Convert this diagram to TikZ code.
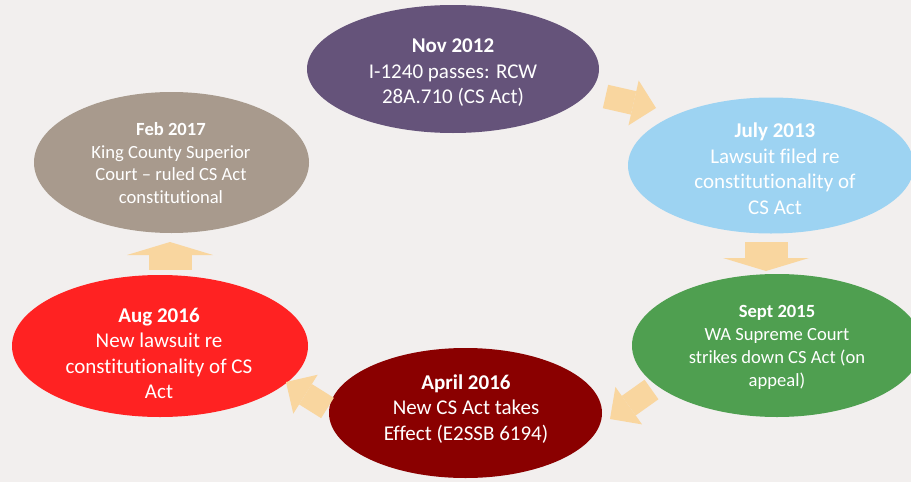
\documentclass[tikz,border=0pt]{standalone}
\usepackage{fontspec}
\setmainfont{Carlito}[Ligatures=NoCommon]
\usetikzlibrary{shapes.geometric,arrows.meta}
\definecolor{bg}{HTML}{F2EFEE}
\definecolor{cpurple}{HTML}{65537A}
\definecolor{cblue}{HTML}{9DD3F2}
\definecolor{cgreen}{HTML}{4F9F50}
\definecolor{cdarkred}{HTML}{8A0000}
\definecolor{cred}{HTML}{FF2222}
\definecolor{cbeige}{HTML}{A89A8D}
\definecolor{carrow}{HTML}{F9D69F}
\begin{document}
\begin{tikzpicture}[x=1pt,y=-1pt,
  stage/.style={ellipse, inner sep=0pt, draw=none},
  bigtxt/.style={text=white, align=center, inner sep=0pt, font=\fontsize{21}{25.5}\selectfont},
  smalltxt/.style={text=white, align=center, inner sep=0pt, font=\fontsize{18.6}{22.8}\selectfont},
  flow/.style={draw=carrow, line width=24pt, -{Triangle[width=46pt,length=23pt,line width=0pt,fill=carrow]}},
  vflow/.style={draw=carrow, line width=43pt, -{Triangle[width=86pt,length=13pt,line width=0pt,fill=carrow]}}
]
\useasboundingbox (0,0) rectangle (911,482);
\clip (0,0) rectangle (911,482);
\fill[bg] (0,0) rectangle (911,482);

% stages
\node[stage, fill=cpurple, minimum width=292pt, minimum height=128pt] (nov) at (453,69) {};
\node[stage, fill=cblue, minimum width=286pt, minimum height=136pt] (jul) at (771,165.5) {};
\node[stage, fill=cgreen, minimum width=290pt, minimum height=143pt] (sep) at (777,345.5) {};
\node[stage, fill=cdarkred, minimum width=273pt, minimum height=130pt] (apr) at (465.5,413) {};
\node[stage, fill=cred, minimum width=296pt, minimum height=142pt] (aug) at (160,346) {};
\node[stage, fill=cbeige, minimum width=275pt, minimum height=141pt] (feb) at (171.5,162.5) {};

% texts
\node[bigtxt] (novt) at (453,73) {\textbf{Nov 2012}\\I-1240 passes: RCW\\28A.710 (CS Act)};
\node[bigtxt] (jult) at (775,168.5) {\textbf{July 2013}\\Lawsuit filed re\\constitutionality of\\CS Act};
\node[smalltxt] (sept) at (777,347.5) {\textbf{Sept 2015}\\WA Supreme Court\\strikes down CS Act (on\\appeal)};
\node[bigtxt] (aprt) at (466,409) {\textbf{April 2016}\\New CS Act takes\\Effect (E2SSB 6194)};
\node[bigtxt] (augt) at (159,353.5) {\textbf{Aug 2016}\\New lawsuit re\\constitutionality of CS\\Act};
\node[smalltxt] (febt) at (171,163) {\textbf{Feb 2017}\\King County Superior\\Court -- ruled CS Act\\constitutional};

% connectors
\coordinate (a1s) at (605.5,96.5);
\coordinate (a1e) at (656,108);
\coordinate (a2s) at (766,242);
\coordinate (a2e) at (766,271);
\coordinate (a3s) at (651.5,389.5);
\coordinate (a3e) at (610,419);
\coordinate (a4s) at (327.5,408);
\coordinate (a4e) at (286,382);
\coordinate (a5s) at (170,270);
\coordinate (a5e) at (170,242);
\draw[flow] (a1s) -- (a1e);
\draw[vflow] (a2s) -- (a2e);
\draw[flow] (a3s) -- (a3e);
\draw[flow] (a4s) -- (a4e);
\draw[vflow] (a5s) -- (a5e);
\end{tikzpicture}
\end{document}
